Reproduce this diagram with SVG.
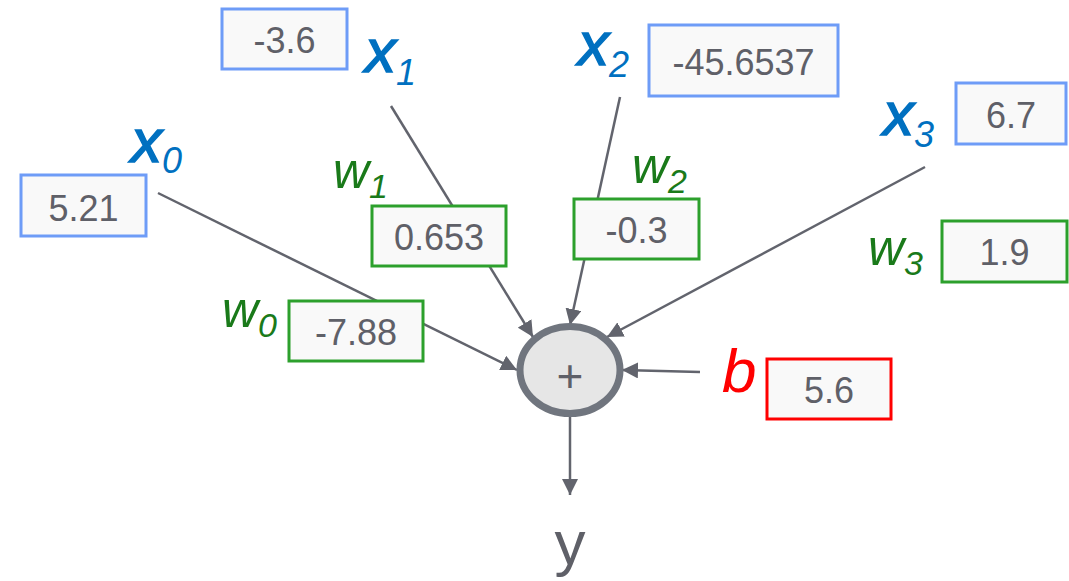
<svg xmlns="http://www.w3.org/2000/svg" width="1069" height="581" viewBox="0 0 1069 581">
<style>
.bx{fill:#f9f9f9;stroke-width:3}
.blue{stroke:#6e9cf7}
.green{stroke:#2ca02c}
.red{stroke:#ff0000}
.num{font-family:"Liberation Sans",Arial,sans-serif;font-size:36px;fill:#5f6068;text-anchor:middle}
.xl{font-family:"Liberation Sans",Arial,sans-serif;font-style:italic;font-size:62px;fill:#0070c0;stroke:#0070c0;stroke-width:1.5}
.wl{font-family:"Liberation Sans",Arial,sans-serif;font-style:italic;font-size:50px;fill:#1a7a1a}
.sub{font-size:36px;stroke-width:0}
.wsub{font-size:34px}
.ln{stroke:#62646d;stroke-width:2.5;fill:none}
</style>
<defs>
<marker id="ah" viewBox="0 0 10 10" refX="10" refY="5" markerWidth="16" markerHeight="16" markerUnits="userSpaceOnUse" orient="auto">
<path d="M0,0 L10,5 L0,10 z" fill="#62646d"/>
</marker>
</defs>
<g id="connectors">
<line class="ln" x1="158" y1="193" x2="517" y2="370" marker-end="url(#ah)"/>
<line class="ln" x1="391" y1="106" x2="533" y2="337" marker-end="url(#ah)"/>
<line class="ln" x1="620" y1="97" x2="570" y2="325" marker-end="url(#ah)"/>
<line class="ln" x1="925" y1="167" x2="607" y2="337" marker-end="url(#ah)"/>
<line class="ln" x1="700" y1="372" x2="622" y2="370" marker-end="url(#ah)"/>
<line class="ln" x1="570" y1="417" x2="570" y2="495" marker-end="url(#ah)"/>
</g>
<g id="x0">
<text class="xl" x="131" y="162">x<tspan class="sub" dy="11">0</tspan></text>
<rect class="bx blue" x="21" y="175" width="125" height="61"/>
<text class="num" x="83.5" y="221">5.21</text>
</g>
<g id="x1">
<text class="xl" x="365" y="72">x<tspan class="sub" dy="13">1</tspan></text>
<rect class="bx blue" x="222" y="9" width="125" height="60"/>
<text class="num" x="284.5" y="53">-3.6</text>
</g>
<g id="x2">
<text class="xl" x="578" y="65">x<tspan class="sub" dy="12">2</tspan></text>
<rect class="bx blue" x="649" y="25" width="189" height="71"/>
<text class="num" x="743.5" y="75">-45.6537</text>
</g>
<g id="x3">
<text class="xl" x="883" y="135">x<tspan class="sub" dy="12">3</tspan></text>
<rect class="bx blue" x="956" y="83" width="110" height="61"/>
<text class="num" x="1011" y="128">6.7</text>
</g>
<g id="w0">
<text class="wl" x="222" y="327">w<tspan class="wsub" dy="10">0</tspan></text>
<rect class="bx green" x="289" y="301" width="134" height="60"/>
<text class="num" x="356" y="345">-7.88</text>
</g>
<g id="w1">
<text class="wl" x="333" y="188">w<tspan class="wsub" dy="10">1</tspan></text>
<rect class="bx green" x="372" y="206" width="134" height="60"/>
<text class="num" x="439" y="250">0.653</text>
</g>
<g id="w2">
<text class="wl" x="632" y="183">w<tspan class="wsub" dy="10">2</tspan></text>
<rect class="bx green" x="574" y="199" width="125" height="60"/>
<text class="num" x="636.5" y="243">-0.3</text>
</g>
<g id="w3">
<text class="wl" x="868" y="265">w<tspan class="wsub" dy="10">3</tspan></text>
<rect class="bx green" x="942" y="221" width="125" height="61"/>
<text class="num" x="1004.5" y="265">1.9</text>
</g>
<g id="b">
<text x="722" y="392" style="font-family:'Liberation Sans',Arial,sans-serif;font-style:italic;font-size:62px;fill:#ff0000">b</text>
<rect class="bx red" x="767" y="359" width="124" height="60"/>
<text class="num" x="829" y="403">5.6</text>
</g>
<g id="sum">
<ellipse cx="570" cy="370" rx="50" ry="43.5" fill="#e6e6e6" stroke="#70757e" stroke-width="7"/>
<text x="570" y="392" style="font-family:'Liberation Sans',Arial,sans-serif;font-size:46px;fill:#5f6068;text-anchor:middle">+</text>
</g>
<g id="y">
<text x="570" y="564" style="font-family:'Liberation Sans',Arial,sans-serif;font-size:62px;fill:#5f6068;text-anchor:middle">y</text>
</g>
</svg>
